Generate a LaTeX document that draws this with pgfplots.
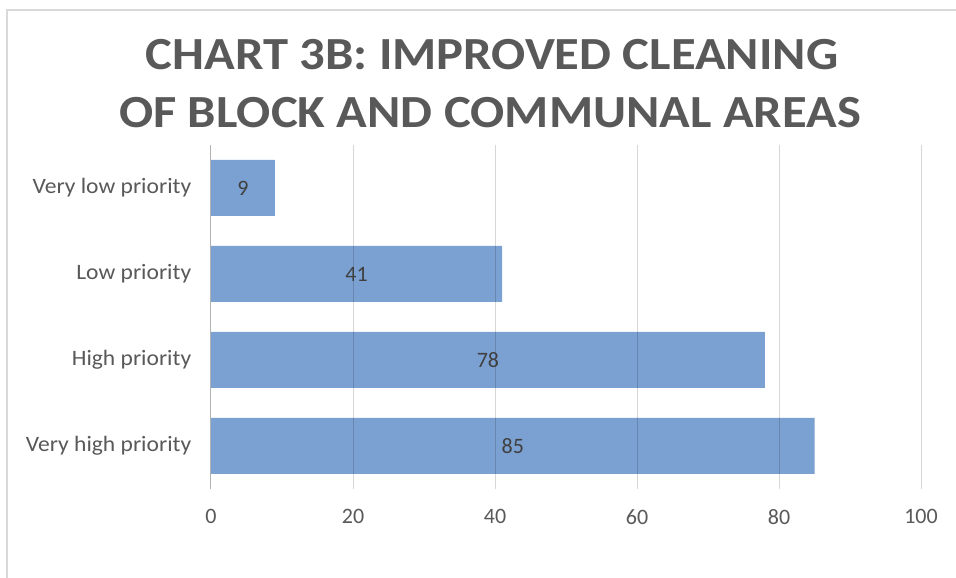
\documentclass[border=0pt]{standalone}
\usepackage{pgfplots}
\pgfplotsset{compat=1.18}
\usepackage{fontspec}
\setmainfont{Carlito}
\definecolor{barblue}{RGB}{123,161,210}
\definecolor{txtgray}{RGB}{89,89,89}
\definecolor{valgray}{RGB}{64,64,64}
\definecolor{framegray}{RGB}{217,217,217}
\begin{document}
\begin{tikzpicture}[x=1pt,y=1pt]
\useasboundingbox (0,0) rectangle (956,578);
\fill[white] (0,0) rectangle (956,578);
\draw[framegray,line width=1.5pt] (7,0) -- (7,568) -- (956,568);
\node[font=\fontsize{46}{52}\selectfont\bfseries,text=txtgray,anchor=base,xscale=1.1] at (492,508) {CHART 3B: IMPROVED CLEANING};
\node[font=\fontsize{46}{52}\selectfont\bfseries,text=txtgray,anchor=base,xscale=1.1] at (490,450) {OF BLOCK AND COMMUNAL AREAS};
\begin{axis}[
  at={(211pt,89pt)}, anchor=south west,
  scale only axis, width=710pt, height=344pt,
  xmin=0, xmax=100, ymin=-0.5, ymax=3.5,
  xbar, bar width=56pt,
  xtick={0,20,40,60,80,100},
  ytick={0,1,2,3},
  yticklabels={Very high priority, High priority, Low priority, Very low priority},
  /pgf/number format/assume math mode=true,
  xmajorgrids, grid style={draw=black, draw opacity=0.16, line width=1pt},
  separate axis lines,
  axis x line*=bottom, x axis line style={draw=none},
  axis y line*=left, y axis line style={draw=black!30, line width=1pt, -},
  major tick length=0pt,
  axis on top,
  tick label style={font=\fontsize{22}{26}\selectfont, text=txtgray},
  xticklabel style={yshift=-17pt},
  yticklabel style={xshift=-16pt, xscale=1.07, anchor=east},
  nodes near coords,
  visualization depends on=x \as \rawx,
  every node near coord/.append style={anchor=center, font=\fontsize{22}{26}\selectfont, text=valgray, shift={(axis direction cs:-\rawx/2,0)}},
]
\addplot[fill=barblue, draw=none] coordinates {(85,0) (78,1) (41,2) (9,3)};
\end{axis}
\end{tikzpicture}
\end{document}
